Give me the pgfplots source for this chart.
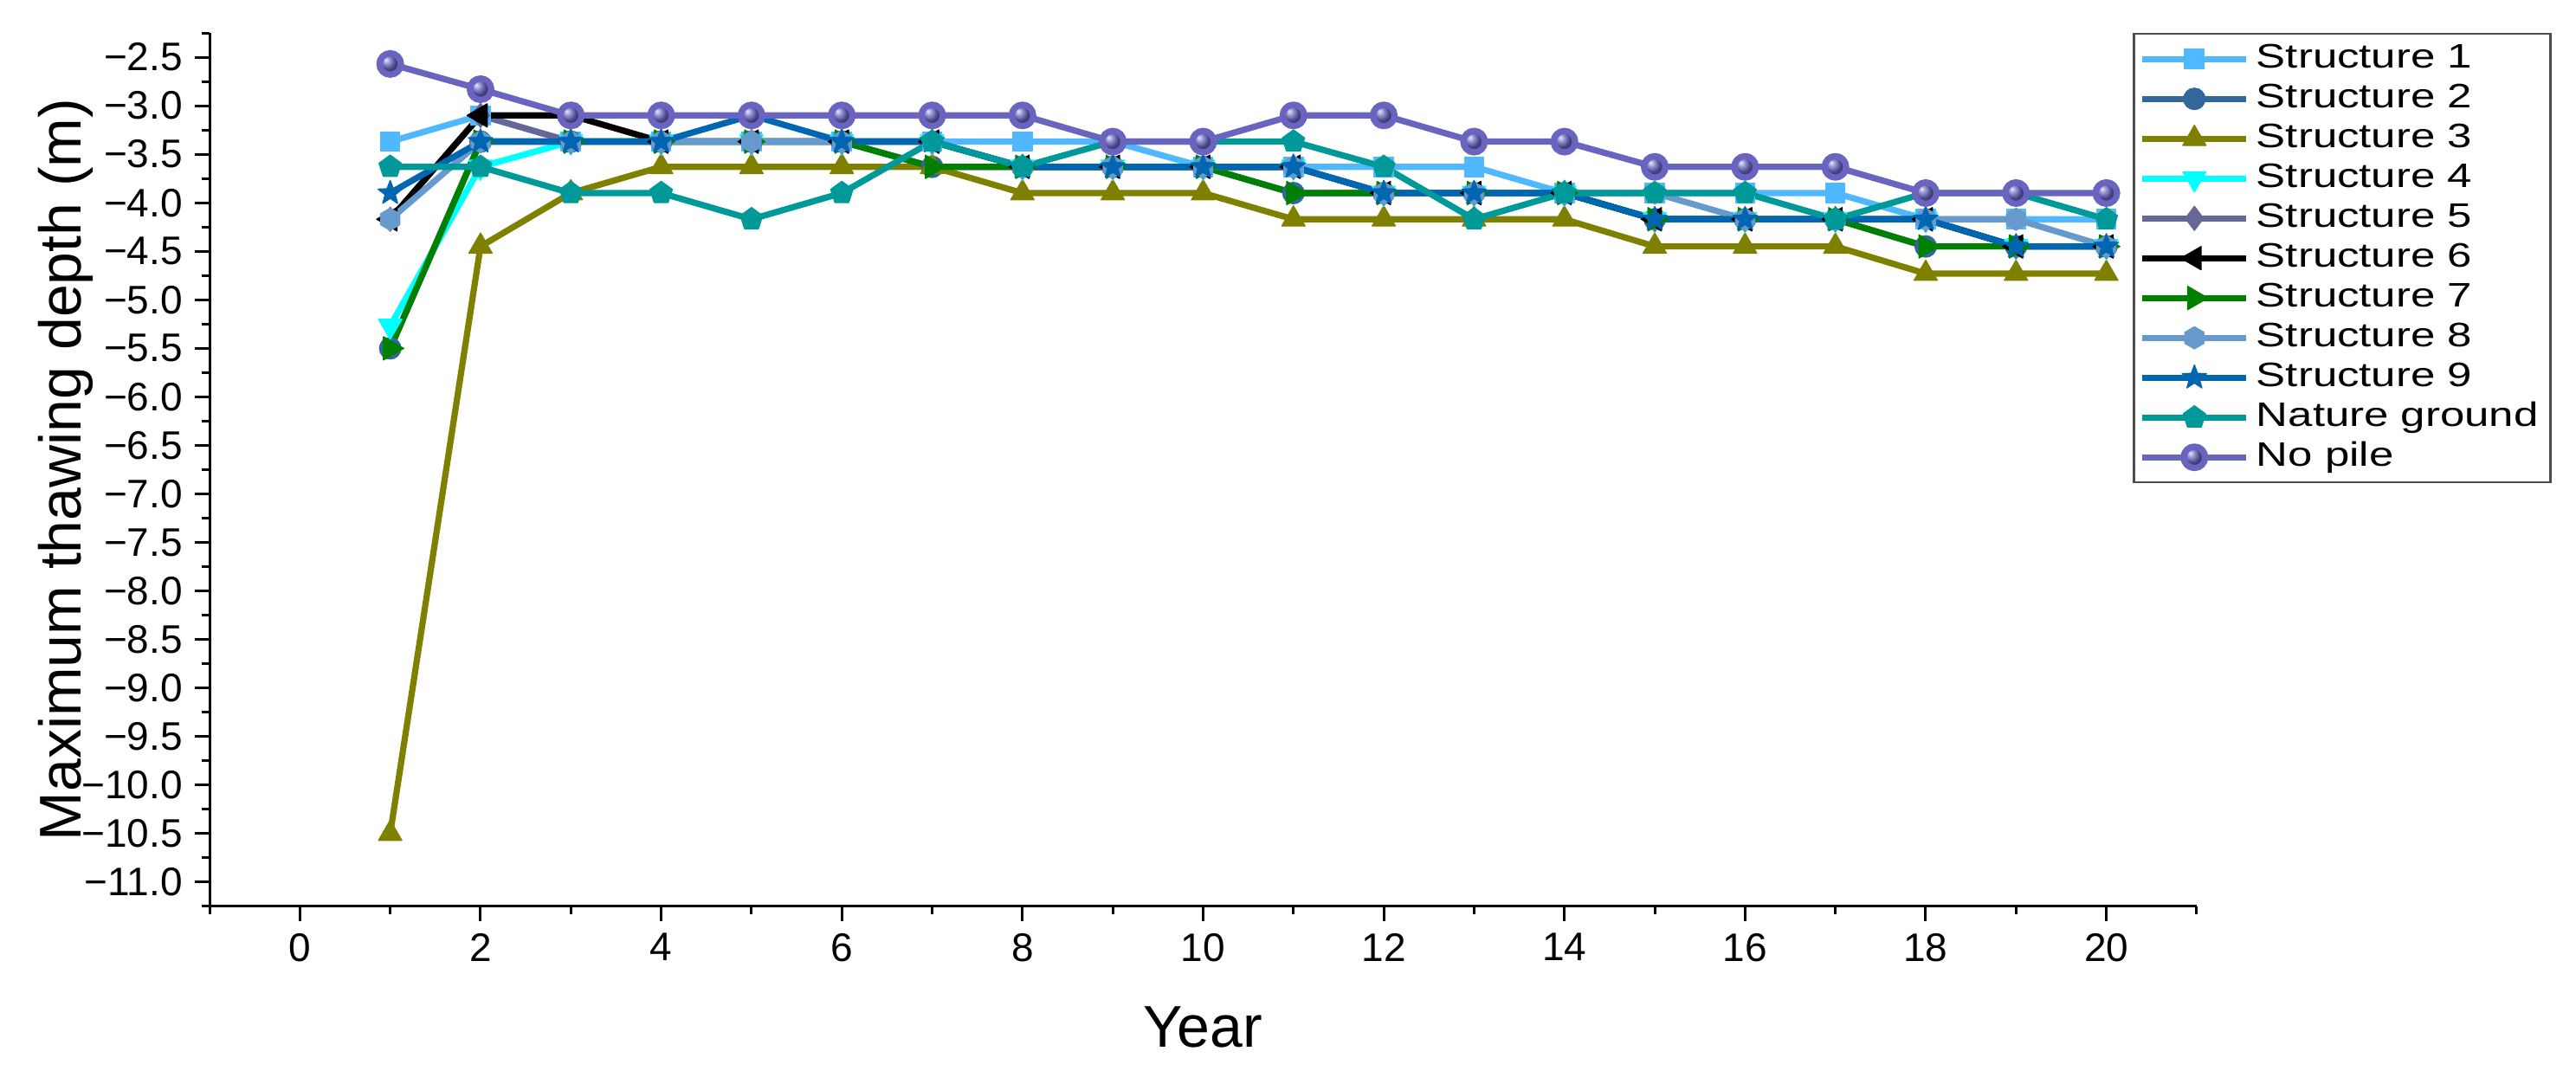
\documentclass[border=0pt]{standalone}
\usepackage{fontspec}
\setmainfont{Liberation Sans}
\newfontfamily\legfont[FakeStretch=1.3]{Liberation Sans}
\usepackage{pgfplots}
\pgfplotsset{compat=1.18}
\usepackage{pgfplotstable}
\usetikzlibrary{plotmarks,shadings}

\definecolor{cA}{RGB}{79,184,255}
\definecolor{cB}{RGB}{51,102,153}
\definecolor{cC}{RGB}{128,128,0}
\definecolor{cD}{RGB}{0,255,255}
\definecolor{cE}{RGB}{102,102,153}
\definecolor{cF}{RGB}{0,0,0}
\definecolor{cG}{RGB}{0,128,0}
\definecolor{cH}{RGB}{102,153,204}
\definecolor{cI}{RGB}{0,102,178}
\definecolor{cNG}{RGB}{0,153,153}
\definecolor{cNP}{RGB}{104,100,192}

% hexagon and filled star marks (Origin style)
\pgfdeclareplotmark{hexa*}{%
  \pgfpathmoveto{\pgfpointpolar{30}{\pgfplotmarksize}}%
  \pgfpathlineto{\pgfpointpolar{90}{\pgfplotmarksize}}%
  \pgfpathlineto{\pgfpointpolar{150}{\pgfplotmarksize}}%
  \pgfpathlineto{\pgfpointpolar{210}{\pgfplotmarksize}}%
  \pgfpathlineto{\pgfpointpolar{270}{\pgfplotmarksize}}%
  \pgfpathlineto{\pgfpointpolar{330}{\pgfplotmarksize}}%
  \pgfpathclose\pgfusepathqfillstroke}
\pgfdeclareplotmark{fstar}{%
  \pgfpathmoveto{\pgfpointpolar{90}{\pgfplotmarksize}}%
  \pgfpathlineto{\pgfpointpolar{126}{0.42\pgfplotmarksize}}%
  \pgfpathlineto{\pgfpointpolar{162}{\pgfplotmarksize}}%
  \pgfpathlineto{\pgfpointpolar{198}{0.42\pgfplotmarksize}}%
  \pgfpathlineto{\pgfpointpolar{234}{\pgfplotmarksize}}%
  \pgfpathlineto{\pgfpointpolar{270}{0.42\pgfplotmarksize}}%
  \pgfpathlineto{\pgfpointpolar{306}{\pgfplotmarksize}}%
  \pgfpathlineto{\pgfpointpolar{342}{0.42\pgfplotmarksize}}%
  \pgfpathlineto{\pgfpointpolar{18}{\pgfplotmarksize}}%
  \pgfpathlineto{\pgfpointpolar{54}{0.42\pgfplotmarksize}}%
  \pgfpathclose\pgfusepathqfillstroke}

\pgfplotstableread{
year s1 s2 s3 s4 s5 s6 s7 s8 s9 ng np
1  -3.37 -5.50 -10.50 -5.27 -4.17 -4.17 -5.50 -4.17 -3.90 -3.63 -2.57
2  -3.10 -3.37 -4.45 -3.63 -3.10 -3.10 -3.37 -3.37 -3.37 -3.63 -2.83
3  -3.37 -3.37 -3.90 -3.37 -3.37 -3.10 -3.37 -3.37 -3.37 -3.90 -3.10
4  -3.37 -3.37 -3.63 -3.37 -3.37 -3.37 -3.37 -3.37 -3.37 -3.90 -3.10
5  -3.37 -3.37 -3.63 -3.37 -3.37 -3.37 -3.37 -3.37 -3.10 -4.17 -3.10
6  -3.37 -3.37 -3.63 -3.37 -3.37 -3.37 -3.37 -3.37 -3.37 -3.90 -3.10
7  -3.37 -3.63 -3.63 -3.37 -3.37 -3.37 -3.63 -3.37 -3.37 -3.37 -3.10
8  -3.37 -3.63 -3.90 -3.63 -3.63 -3.63 -3.63 -3.63 -3.63 -3.63 -3.10
9  -3.37 -3.63 -3.90 -3.63 -3.63 -3.63 -3.63 -3.63 -3.63 -3.37 -3.37
10 -3.63 -3.63 -3.90 -3.63 -3.63 -3.63 -3.63 -3.63 -3.63 -3.37 -3.37
11 -3.63 -3.90 -4.17 -3.63 -3.63 -3.63 -3.90 -3.63 -3.63 -3.37 -3.10
12 -3.63 -3.90 -4.17 -3.90 -3.90 -3.90 -3.90 -3.90 -3.90 -3.63 -3.10
13 -3.63 -3.90 -4.17 -3.90 -3.90 -3.90 -3.90 -3.90 -3.90 -4.17 -3.37
14 -3.90 -3.90 -4.17 -3.90 -3.90 -3.90 -3.90 -3.90 -3.90 -3.90 -3.37
15 -3.90 -4.17 -4.45 -4.17 -4.17 -4.17 -4.17 -3.90 -4.17 -3.90 -3.63
16 -3.90 -4.17 -4.45 -4.17 -4.17 -4.17 -4.17 -4.17 -4.17 -3.90 -3.63
17 -3.90 -4.17 -4.45 -4.17 -4.17 -4.17 -4.17 -4.17 -4.17 -4.17 -3.63
18 -4.17 -4.45 -4.73 -4.17 -4.17 -4.17 -4.45 -4.17 -4.17 -3.90 -3.90
19 -4.17 -4.45 -4.73 -4.45 -4.45 -4.45 -4.45 -4.17 -4.45 -3.90 -3.90
20 -4.17 -4.45 -4.73 -4.45 -4.45 -4.45 -4.45 -4.45 -4.45 -4.17 -3.90
}\thaw

\begin{document}
\begin{tikzpicture}
\begin{axis}[
    width=573.75pt, height=252.25pt,
    scale only axis,
    clip=false,
    xmin=-1, xmax=21,
    ymin=-11.25, ymax=-2.25,
    axis x line*=bottom, axis y line*=left,
    axis line style={-, line width=0.75pt},
    xtick={0,2,...,20},
    minor xtick={-1,1,...,21},
    ytick={-11,-10.5,-10,-9.5,-9,-8.5,-8,-7.5,-7,-6.5,-6,-5.5,-5,-4.5,-4,-3.5,-3,-2.5},
    yticklabels={−11.0,−10.5,−10.0,−9.5,−9.0,−8.5,−8.0,−7.5,−7.0,−6.5,−6.0,−5.5,−5.0,−4.5,−4.0,−3.5,−3.0,−2.5},
    minor ytick={-11.25,-10.75,...,-2.25},
    tick align=outside,
    major tick length=4.25pt, minor tick length=2.25pt,
    tick style={black, line width=0.75pt},
    /pgf/number format/assume math mode=true,
    ticklabel style={font=\fontsize{11.5}{13}\selectfont},
    xlabel={Year}, ylabel={Maximum thawing depth (m)},
    label style={font=\fontsize{17}{20}\selectfont},
    xlabel style={at={(rel axis cs:0.5,-0.138)}, anchor=center},
    ylabel style={at={(rel axis cs:-0.0723,0.5)}, anchor=center},
    every axis plot/.append style={line width=1.8pt, line join=round},
    legend cell align=left,
    legend style={at={(rel axis cs:0.968,1.0)}, anchor=north west,
        draw=black!70, line width=0.6pt, font=\legfont\fontsize{9.8}{11.5}\selectfont,
        row sep=0pt, inner xsep=1.5pt, inner ysep=1.5pt,
        nodes={text height=7.6pt, text depth=2.6pt, inner ysep=0.65pt}},
    legend image code/.code={\draw[mark repeat=2,mark phase=2,#1] plot coordinates {(0pt,0pt) (15pt,0pt) (30pt,0pt)};},
]
\addplot[cA, mark=square*, mark size=2.8pt, mark options={line width=0.3pt}] table[x=year,y=s1] {\thaw};
\addlegendentry{Structure 1}
\addplot[cB, mark=*, mark size=3.1pt, mark options={line width=0.3pt}] table[x=year,y=s2] {\thaw};
\addlegendentry{Structure 2}
\addplot[cC, mark=triangle*, mark size=3.9pt, mark options={line width=0.3pt}] table[x=year,y=s3] {\thaw};
\addlegendentry{Structure 3}
\addplot[cD, mark=triangle*, mark size=3.9pt, mark options={line width=0.3pt, rotate=180}] table[x=year,y=s4] {\thaw};
\addlegendentry{Structure 4}
\addplot[cE, mark=diamond*, mark size=3.5pt, mark options={line width=0.3pt}] table[x=year,y=s5] {\thaw};
\addlegendentry{Structure 5}
\addplot[cF, mark=triangle*, mark size=3.9pt, mark options={line width=0.3pt, rotate=90}] table[x=year,y=s6] {\thaw};
\addlegendentry{Structure 6}
\addplot[cG, mark=triangle*, mark size=3.9pt, mark options={line width=0.3pt, rotate=-90}] table[x=year,y=s7] {\thaw};
\addlegendentry{Structure 7}
\addplot[cH, mark=hexa*, mark size=3.2pt, mark options={line width=0.3pt}] table[x=year,y=s8] {\thaw};
\addlegendentry{Structure 8}
\addplot[cI, mark=fstar, mark size=3.7pt, mark options={line width=0.3pt}] table[x=year,y=s9] {\thaw};
\addlegendentry{Structure 9}
\addplot[cNG, mark=pentagon*, mark size=3.4pt, mark options={line width=0.3pt}] table[x=year,y=ng] {\thaw};
\addlegendentry{Nature ground}
\addplot[cNP, mark=ball, mark size=3.1pt, mark options={ball color=cNP, draw=none}] table[x=year,y=np] {\thaw};
\addlegendentry{No pile}
% keep the page the size of the reference
\path (rel axis cs:-0.10545,-0.1952) rectangle (rel axis cs:1.1909,1.0377);
\end{axis}
\end{tikzpicture}
\end{document}
